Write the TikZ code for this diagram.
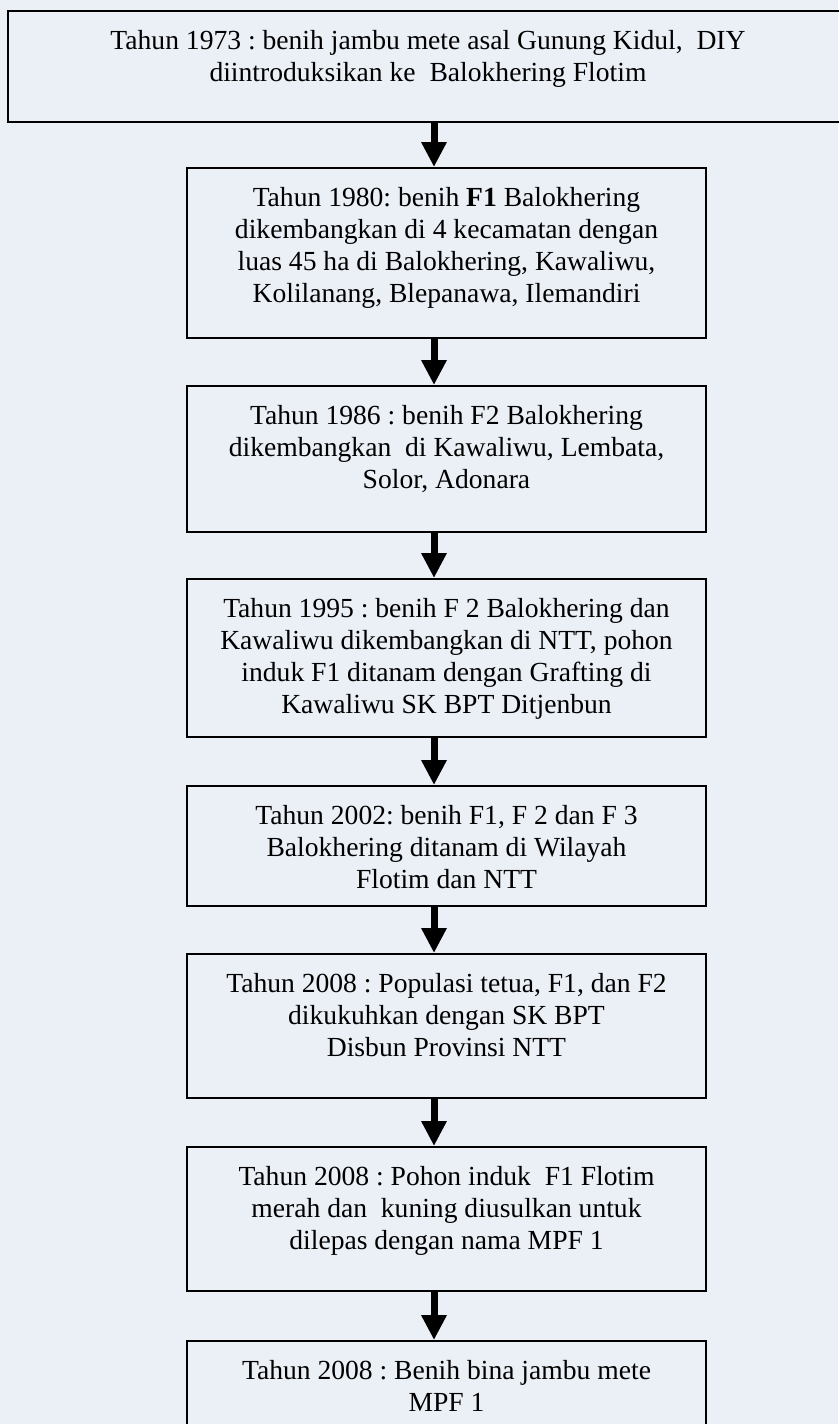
\documentclass[tikz,border=0pt]{standalone}
\usepackage{fontspec}
\setmainfont{Liberation Serif}
\usepackage{xcolor}
\usetikzlibrary{arrows.meta}
\definecolor{paper}{RGB}{235,240,247}
\frenchspacing
\newcommand{\steptext}[3]{\parbox[t][#2][t]{#1}{\centering\vspace*{20pt}#3}}

\begin{document}
\begin{tikzpicture}[x=1pt, y=-1pt,
    stepbox/.style={draw, line width=1.6pt, inner sep=0pt, anchor=north, font=\fontsize{27.6}{32}\selectfont},
    steparrow/.style={line width=7pt, -{Triangle[width=24pt, length=25pt]}}]
    \useasboundingbox (0,0) rectangle (838,1424);
    \fill[paper] (0,0) rectangle (838,1424);

    \node[stepbox] at (428,10) (s1) {\steptext{840pt}{111pt}{Tahun 1973 : benih jambu mete asal Gunung Kidul,\ \ DIY\\diintroduksikan ke\ \ Balokhering Flotim}};
    \node[stepbox] at (446.5,167) (s2) {\steptext{519pt}{170pt}{Tahun 1980: benih \textbf{F1} Balokhering\\dikembangkan di 4 kecamatan dengan\\luas 45 ha di Balokhering, Kawaliwu,\\Kolilanang, Blepanawa, Ilemandiri}};
    \node[stepbox] at (446.5,385) (s3) {\steptext{519pt}{146pt}{Tahun 1986 : benih F2 Balokhering\\dikembangkan\ \ di Kawaliwu, Lembata,\\Solor, Adonara}};
    \node[stepbox] at (446.5,578) (s4) {\steptext{519pt}{158pt}{Tahun 1995 : benih F 2 Balokhering dan\\Kawaliwu dikembangkan di NTT, pohon\\induk F1 ditanam dengan Grafting di\\Kawaliwu SK BPT Ditjenbun}};
    \node[stepbox] at (446.5,785) (s5) {\steptext{519pt}{120pt}{Tahun 2002: benih F1, F 2 dan F 3\\Balokhering ditanam di Wilayah\\Flotim dan NTT}};
    \node[stepbox] at (446.5,953) (s6) {\steptext{519pt}{144pt}{Tahun 2008 : Populasi tetua, F1, dan F2\\dikukuhkan dengan SK BPT\\Disbun Provinsi NTT}};
    \node[stepbox] at (446.5,1146) (s7) {\steptext{519pt}{144pt}{Tahun 2008 : Pohon induk\ \ F1 Flotim\\merah dan\ \ kuning diusulkan untuk\\dilepas dengan nama MPF 1}};
    \node[stepbox] at (446.5,1340) (s8) {\steptext{519pt}{110pt}{Tahun 2008 : Benih bina jambu mete\\MPF 1}};

    \draw[steparrow] ([xshift=6pt]s1.south) -- ([xshift=-12.5pt]s2.north);
    \draw[steparrow] ([xshift=-12.5pt]s2.south) -- ([xshift=-12.5pt]s3.north);
    \draw[steparrow] ([xshift=-12.5pt]s3.south) -- ([xshift=-12.5pt]s4.north);
    \draw[steparrow] ([xshift=-12.5pt]s4.south) -- ([xshift=-12.5pt]s5.north);
    \draw[steparrow] ([xshift=-12.5pt]s5.south) -- ([xshift=-12.5pt]s6.north);
    \draw[steparrow] ([xshift=-12.5pt]s6.south) -- ([xshift=-12.5pt]s7.north);
    \draw[steparrow] ([xshift=-12.5pt]s7.south) -- ([xshift=-12.5pt]s8.north);
\end{tikzpicture}
\end{document}
